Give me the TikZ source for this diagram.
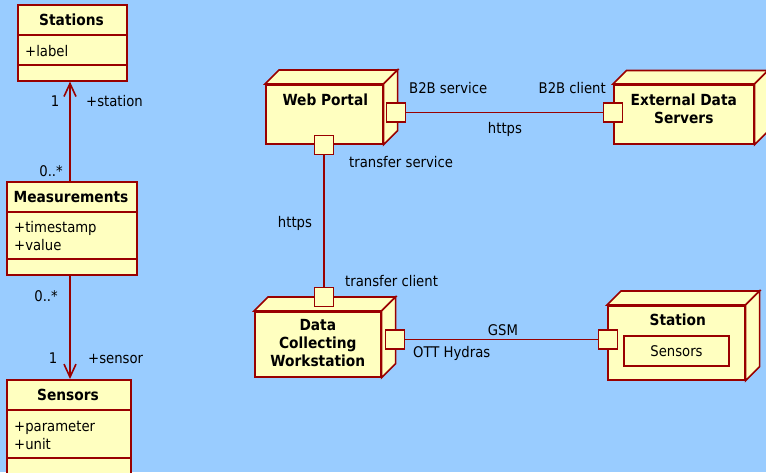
\documentclass[tikz,border=0pt]{standalone}
\usepackage{fontspec}
\setmainfont{DejaVu Sans Condensed}
\usetikzlibrary{arrows.meta,calc}
\definecolor{bgblue}{HTML}{99CCFF}
\definecolor{boxfill}{HTML}{FFFFC0}
\definecolor{edge}{HTML}{990000}

% depth faces (top and right) of a 3D deployment node
\newcommand\cuboidfaces[2]{%
  \draw[face] (#1.north west) -- ++(#2,-#2) -- ($(#1.north east)+(#2,-#2)$) -- (#1.north east) -- cycle;
  \draw[face] (#1.north east) -- ++(#2,-#2) -- ($(#1.south east)+(#2,-#2)$) -- (#1.south east) -- cycle;
}

\tikzset{
  lbl/.style={font=\fontsize{14.7}{17.5}\selectfont, inner sep=0pt},
  ttl/.style={font=\fontsize{15.3}{18}\selectfont\bfseries, inner sep=0pt, align=center},
  face/.style={draw=edge, fill=boxfill, line width=1.6pt, line join=miter},
  frontface/.style={face, rectangle, inner sep=0pt, anchor=north west},
  port/.style={face, rectangle, minimum size=19pt, inner sep=0pt},
  wire/.style={draw=edge, line width=1.6pt},
  assoc/.style={wire, -{Straight Barb[length=13pt,width=12pt,line width=1.6pt]}},
}

\begin{document}
\begin{tikzpicture}[x=1pt,y=-1pt]
\clip (0,0) rectangle (766,472);
\fill[bgblue] (0,0) rectangle (766,472);

% ---------- class diagram ----------
\node[frontface, minimum width=109pt, minimum height=76pt] (stations) at (17,4) {};
\draw[wire] ($(stations.north west)+(0,31)$) -- ($(stations.north east)+(0,31)$);
\draw[wire] ($(stations.north west)+(0,61)$) -- ($(stations.north east)+(0,61)$);
\node[ttl, anchor=base] (stationsT) at (71.5,25.5) {Stations};
\node[lbl, anchor=base west] (stationsA) at (25,56) {+label};

\node[frontface, minimum width=130pt, minimum height=93pt] (meas) at (6,181) {};
\draw[wire] ($(meas.north west)+(0,31)$) -- ($(meas.north east)+(0,31)$);
\draw[wire] ($(meas.north west)+(0,78)$) -- ($(meas.north east)+(0,78)$);
\node[ttl, anchor=base] (measT) at (71,202.5) {Measurements};
\node[lbl, anchor=base west] (measA) at (14,232.5) {+timestamp};
\node[lbl, anchor=base west] (measB) at (14,250) {+value};

\node[frontface, minimum width=124pt, minimum height=110pt] (sensors) at (6,379) {};
\draw[wire] ($(sensors.north west)+(0,31)$) -- ($(sensors.north east)+(0,31)$);
\draw[wire] ($(sensors.north west)+(0,79)$) -- ($(sensors.north east)+(0,79)$);
\node[ttl, anchor=base] (sensorsT) at (68,400) {Sensors};
\node[lbl, anchor=base west] (sensorsA) at (14,431) {+parameter};
\node[lbl, anchor=base west] (sensorsB) at (14,449) {+unit};

\coordinate (axis) at (70,0);
\draw[assoc] (meas.north -| axis) -- (stations.south -| axis);
\draw[assoc] (meas.south -| axis) -- (sensors.north -| axis);

\node[lbl, anchor=base] (m1) at (55,106.5) {1};
\node[lbl, anchor=base west] (m2) at (86,106.5) {+station};
\node[lbl, anchor=base east] (m3) at (63,176.5) {0..*};
\node[lbl, anchor=base east] (m4) at (58,301) {0..*};
\node[lbl, anchor=base] (m5) at (53,363) {1};
\node[lbl, anchor=base west] (m6) at (88,363) {+sensor};

% ---------- deployment diagram ----------
\node[frontface, minimum width=117pt, minimum height=59pt] (wp) at (265,84) {};
\cuboidfaces{wp}{14}
\node[ttl, anchor=base] (wpT) at ($(wp.north)+(1,21)$) {Web Portal};

\node[frontface, minimum width=140pt, minimum height=59pt] (eds) at (613,84) {};
\cuboidfaces{eds}{13.5}
% base anchor of a multi-line node sits on its last line
\node[ttl, anchor=base] (edsT) at ($(eds.north)+(0,39.3)$) {External Data\\Servers};

\node[frontface, minimum width=126pt, minimum height=65pt] (dcw) at (254,311) {};
\cuboidfaces{dcw}{14}
\node[ttl, anchor=base] (dcwT) at ($(dcw.north)+(0,55.7)$) {Data\\Collecting\\Workstation};

\node[frontface, minimum width=137pt, minimum height=74pt] (st) at (607,305) {};
\cuboidfaces{st}{14}
\node[ttl, anchor=base] (stT) at ($(st.north)+(1.5,20.7)$) {Station};
\node[face, rectangle, inner sep=0pt, minimum width=105pt, minimum height=30pt] (stS) at (676.5,351) {};
\node[lbl, anchor=base] (stSt) at (676.5,356.7) {Sensors};

% ports
\node[port] (wpR) at (396,112.5) {};
\node[port] (wpB) at (324,145) {};
\node[port] (edsL) at (613,112.5) {};
\node[port] (dcwT2) at (324,297) {};
\node[port] (dcwR) at (395,339.5) {};
\node[port] (stL) at (608,339.5) {};

% communication paths
\draw[wire] (wpR.east) -- (edsL.west);
\draw[wire] (wpB.south) -- (dcwT2.north);
\draw[wire] (dcwR.east) -- (stL.west);

% path labels
\node[lbl, anchor=base west] (l1) at (409,93) {B2B service};
\node[lbl, anchor=base east] (l2) at (606,93) {B2B client};
\node[lbl, anchor=base] (l3) at (505,133) {https};
\node[lbl, anchor=base west] (l4) at (349,167.5) {transfer service};
\node[lbl, anchor=base] (l5) at (295,227) {https};
\node[lbl, anchor=base west] (l6) at (345,286.5) {transfer client};
\node[lbl, anchor=base] (l7) at (503,335) {GSM};
\node[lbl, anchor=base west] (l8) at (413,357.5) {OTT Hydras};
\end{tikzpicture}
\end{document}
